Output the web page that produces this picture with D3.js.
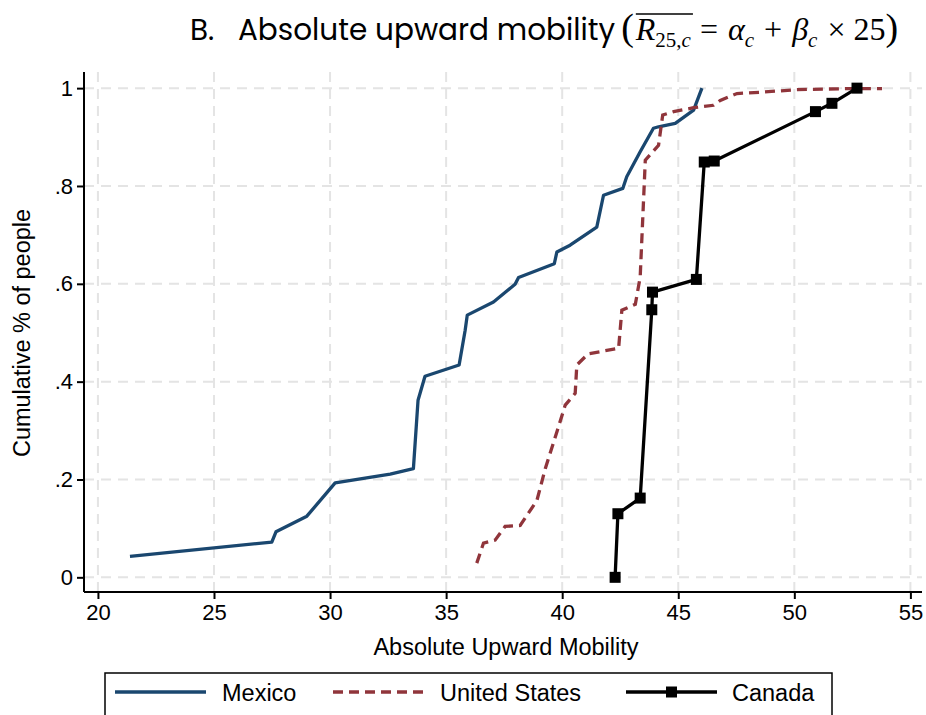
<!DOCTYPE html>
<html>
<head>
<meta charset="utf-8">
<script src="https://cdn.jsdelivr.net/npm/d3@7"></script>
<style>
  html, body { margin: 0; padding: 0; background: #fff; }
  svg { display: block; }
</style>
</head>
<body>
<svg id="chart" width="926" height="715"></svg>
<script>
// Cumulative distributions of absolute upward mobility by country
const mexicoX = [21.38, 27.49, 27.67, 29.0, 30.22, 32.59, 33.59, 33.79, 34.09, 35.56, 35.82, 35.91, 37.04, 37.97, 38.12, 39.66, 39.77, 40.34, 41.49, 41.78, 42.61, 42.78, 43.36, 43.93, 44.15, 44.87, 45.66, 46.02];
const mexicoY = [0.043, 0.072, 0.093, 0.125, 0.193, 0.211, 0.222, 0.362, 0.411, 0.434, 0.505, 0.536, 0.563, 0.599, 0.613, 0.641, 0.665, 0.679, 0.716, 0.781, 0.795, 0.819, 0.870, 0.918, 0.921, 0.928, 0.955, 1.0];

const usX = [36.32, 36.61, 37.11, 37.54, 38.19, 38.91, 39.27, 39.77, 40.13, 40.56, 40.63, 41.12, 42.43, 42.57, 43.15, 43.36, 43.58, 44.15, 44.33, 44.80, 45.66, 46.52, 46.81, 47.53, 48.68, 50.11, 52.27, 53.78];
const usY = [0.029, 0.070, 0.076, 0.104, 0.106, 0.157, 0.222, 0.297, 0.352, 0.376, 0.434, 0.457, 0.468, 0.546, 0.558, 0.614, 0.853, 0.883, 0.945, 0.952, 0.960, 0.965, 0.975, 0.989, 0.992, 0.997, 0.999, 0.999];

const canadaX = [42.28, 42.40, 43.36, 43.86, 43.89, 45.78, 46.12, 46.55, 50.91, 51.62, 52.70];
const canadaY = [0.0, 0.130, 0.162, 0.547, 0.583, 0.609, 0.849, 0.851, 0.952, 0.969, 1.0];

const xTicks = [20, 25, 30, 35, 40, 45, 50, 55];
const yTicks = [0, 0.2, 0.4, 0.6, 0.8, 1];
const yTickLabels = ["0", ".2", ".4", ".6", ".8", "1"];

const seriesNames = ["Mexico", "United States", "Canada"];
const seriesColors = ["#1a476f", "#90353b", "#000000"];

const svg = d3.select("#chart");
const sans = "'Liberation Sans', Arial, sans-serif";

const x = d3.scaleLinear().domain([19.4, 55.5]).range([84, 922]);
const y = d3.scaleLinear().domain([-0.03, 1.033]).range([592, 72]);

// Gridlines
const grid = svg.append("g").attr("stroke", "#e4e4e4").attr("stroke-width", 2)
  .attr("stroke-dasharray", "10,7");
grid.selectAll("line.v").data(xTicks).join("line")
  .attr("x1", d => x(d)).attr("x2", d => x(d))
  .attr("y1", y.range()[0]).attr("y2", y.range()[1]);
grid.selectAll("line.h").data(yTicks).join("line")
  .attr("y1", d => y(d)).attr("y2", d => y(d))
  .attr("x1", x.range()[0]).attr("x2", x.range()[1]);

// Axes
const xAxis = d3.axisBottom(x).tickValues(xTicks).tickSize(7).tickPadding(5).tickFormat(d3.format("d"));
const yAxis = d3.axisLeft(y).tickValues(yTicks).tickSize(7).tickPadding(4)
  .tickFormat((d, i) => yTickLabels[i]);

const gx = svg.append("g").attr("transform", `translate(0,${y.range()[0]})`).call(xAxis);
const gy = svg.append("g").attr("transform", `translate(${x.range()[0]},0)`).call(yAxis);
[gx, gy].forEach(g => {
  g.select(".domain").attr("stroke", "#000").attr("stroke-width", 2);
  g.selectAll(".tick line").attr("stroke", "#000").attr("stroke-width", 2);
  g.selectAll(".tick text").attr("font-family", sans).attr("font-size", 22).attr("fill", "#000");
});
gx.select(".domain").attr("d", `M${x.range()[0]},0H${x.range()[1]}`);
gy.select(".domain").attr("d", `M0,${y.range()[0]}V${y.range()[1]}`);

// Axis titles
svg.append("text").attr("x", 506).attr("y", 655).attr("text-anchor", "middle")
  .attr("font-family", sans).attr("font-size", 23.5).text("Absolute Upward Mobility");
svg.append("text").attr("transform", "translate(30,333) rotate(-90)").attr("text-anchor", "middle")
  .attr("font-family", sans).attr("font-size", 23.5).text("Cumulative % of people");

// Series
const line = d3.line().x(d => x(d[0])).y(d => y(d[1]));
const mexico = d3.zip(mexicoX, mexicoY);
const us = d3.zip(usX, usY);
const canada = d3.zip(canadaX, canadaY);

svg.append("path").datum(mexico).attr("d", line).attr("fill", "none")
  .attr("stroke", seriesColors[0]).attr("stroke-width", 3.3).attr("stroke-linejoin", "round");
svg.append("path").datum(us).attr("d", line).attr("fill", "none")
  .attr("stroke", seriesColors[1]).attr("stroke-width", 3.3).attr("stroke-dasharray", "10,6");
svg.append("path").datum(canada).attr("d", line).attr("fill", "none")
  .attr("stroke", seriesColors[2]).attr("stroke-width", 3.3).attr("stroke-linejoin", "round");
svg.selectAll("rect.mk").data(canada).join("rect").attr("class", "mk")
  .attr("x", d => x(d[0]) - 5.5).attr("y", d => y(d[1]) - 5.5)
  .attr("width", 11).attr("height", 11).attr("fill", "#000");

// Legend
const lg = svg.append("g");
lg.append("rect").attr("x", 105).attr("y", 673).attr("width", 727).attr("height", 60)
  .attr("fill", "#fff").attr("stroke", "#000").attr("stroke-width", 1.5);
const legendItems = [
  { name: seriesNames[0], x1: 115, x2: 206, tx: 222, dash: null, marker: false },
  { name: seriesNames[1], x1: 333, x2: 425, tx: 440, dash: "10,6", marker: false },
  { name: seriesNames[2], x1: 626, x2: 717, tx: 732, dash: null, marker: true }
];
legendItems.forEach((it, i) => {
  lg.append("line").attr("x1", it.x1).attr("x2", it.x2).attr("y1", 692).attr("y2", 692)
    .attr("stroke", seriesColors[i]).attr("stroke-width", 3.3)
    .attr("stroke-dasharray", it.dash);
  if (it.marker) {
    lg.append("rect").attr("x", (it.x1 + it.x2) / 2 - 5.5).attr("y", 686.5).attr("width", 11).attr("height", 11).attr("fill", "#000");
  }
  lg.append("text").attr("x", it.tx).attr("y", 701).attr("font-family", sans).attr("font-size", 23.5).text(it.name);
});

// Title with formula
const tg = svg.append("g");
const titleFont = "'Poppins', 'Noto Sans', 'Open Sans', sans-serif";
const mathFont = "'Liberation Serif', 'DejaVu Serif', serif";
const base = 40;
const tTitle = tg.append("text").attr("x", 190).attr("y", base).attr("font-family", titleFont)
  .attr("font-size", 29.5).attr("fill", "#000").attr("xml:space", "preserve").text("B.   Absolute upward mobility");
let cx = 190 + tTitle.node().getComputedTextLength() + 6;

function put(str, opts) {
  const t = tg.append("text").attr("x", cx + (opts.dx || 0)).attr("y", base + (opts.dy || 0))
    .attr("font-family", opts.font || mathFont).attr("font-size", opts.size || 32)
    .attr("font-style", opts.italic ? "italic" : "normal").attr("fill", "#000").text(str);
  const w = t.node().getComputedTextLength();
  const start = cx + (opts.dx || 0);
  cx = start + w + (opts.after || 0);
  return [start, start + w];
}
put("(", { size: 38, after: 2 });
const r0 = put("R", { italic: true, after: 0 });
put("25,", { size: 21, dy: 7 });
const r1 = put("c", { size: 21, dy: 7, italic: true, after: 9 });
tg.append("line").attr("x1", r0[0]).attr("x2", r1[1] + 2).attr("y1", 14).attr("y2", 14)
  .attr("stroke", "#000").attr("stroke-width", 1.5);
put("=", { after: 10 });
put("\u03B1", { italic: true });
put("c", { size: 21, dy: 7, italic: true, after: 10 });
put("+", { after: 10 });
put("\u03B2", { italic: true });
put("c", { size: 21, dy: 7, italic: true, after: 10 });
put("\u00D7", { after: 8 });
put("25", {});
put(")", { size: 38 });
</script>
</body>
</html>
